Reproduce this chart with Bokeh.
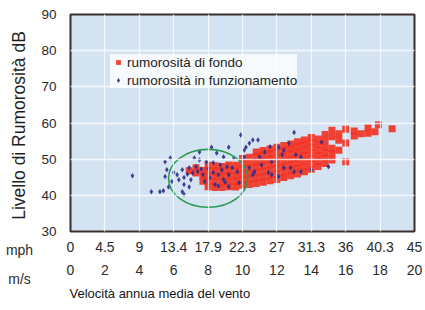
from bokeh.plotting import figure
from bokeh.layouts import row
from bokeh.models import (Range1d, FixedTicker, LinearAxis, Label, Legend, LegendItem, Title)
from bokeh.embed import file_html
from bokeh.resources import INLINE

# ---- data ----
ms_ticks = [0, 2, 4, 6, 8, 10, 12, 14, 16, 18, 20]
mph_labels = ["0", "4.5", "9", "13.4", "17.9", "22.3", "27", "31.3", "36", "40.3", "45"]
db_ticks = [30, 40, 50, 60, 70, 80, 90]
row_names = ["mph", "m/s"]

# background noise (rumorosità di fondo): wind speed m/s -> dB readings
red_cols = {
    6.9: [46.8],
    7.3: [46.2, 47.6],
    7.7: [43.9, 45.3, 46.9],
    8.0: [42.4, 43.9, 45.4, 46.9, 48.3],
    8.4: [42.2, 43.7, 45.2, 46.7, 48.2],
    8.8: [42.2, 43.7, 45.2, 46.7, 48.0],
    9.2: [42.4, 43.9, 45.4, 46.9, 48.4],
    9.6: [42.3, 43.8, 45.3, 46.8, 48.3],
    10.0: [42.8, 44.3, 45.8, 47.3, 48.8, 50.2],
    10.4: [43.0, 44.5, 46.0, 47.5, 49.0, 50.5],
    10.8: [43.3, 44.8, 46.3, 47.8, 49.3, 50.8, 52.0],
    11.2: [43.6, 45.1, 46.6, 48.1, 49.6, 51.1, 52.4],
    11.6: [44.0, 45.5, 47.0, 48.5, 50.0, 51.5, 52.8],
    12.0: [44.4, 45.9, 47.4, 48.9, 50.4, 51.9, 53.3],
    12.4: [44.9, 46.4, 47.9, 49.4, 50.9, 52.4, 53.8],
    12.8: [45.4, 46.9, 48.4, 49.9, 51.4, 52.9, 54.2],
    13.2: [45.9, 47.4, 48.9, 50.4, 51.9, 53.4, 54.8],
    13.6: [46.5, 48.0, 49.5, 51.0, 52.5, 54.0, 55.3],
    14.0: [47.2, 48.7, 50.2, 51.7, 53.2, 54.7, 56.0],
    14.4: [48.0, 49.5, 51.0, 52.5, 54.0, 55.6],
    14.8: [48.8, 50.3, 51.8, 53.3, 55.0, 56.8],
    15.2: [49.8, 51.5, 53.0, 56.2, 58.0],
    15.6: [52.5, 55.2, 57.0],
    16.0: [49.3, 54.5, 58.3],
    16.5: [56.4, 57.8],
    16.9: [57.0],
    17.3: [57.2, 58.6],
    17.7: [57.6],
    17.9: [59.5],
    18.7: [58.4],
}

# operating noise (rumorosità in funzionamento): (wind m/s, dB)
blue_pts = [
    (3.6, 45.4), (4.7, 41.0), (5.2, 41.0), (5.4, 41.3), (5.5, 49.3), (5.8, 50.3),
    (5.5, 45.2), (5.6, 47.1), (5.9, 43.8), (5.7, 42.3), (6.0, 46.3), (6.3, 44.3),
    (6.2, 45.7), (6.5, 47.1), (6.6, 44.9), (6.6, 43.0), (6.9, 47.6), (6.5, 41.0),
    (6.6, 40.3), (6.8, 45.8), (7.0, 44.3), (6.9, 42.3), (7.1, 46.2), (7.2, 50.3),
    (7.3, 47.9), (7.4, 46.6), (7.5, 52.0), (7.5, 49.8), (7.6, 47.3), (7.7, 45.7),
    (7.8, 43.8), (7.9, 49.3), (8.0, 47.3), (8.1, 44.9), (8.2, 53.3), (8.3, 49.0),
    (8.3, 46.3), (8.4, 43.0), (8.5, 51.7), (8.6, 45.7), (8.6, 42.6), (8.7, 48.4),
    (8.8, 47.0), (8.9, 50.6), (8.9, 44.4), (9.0, 43.6), (9.1, 47.9), (9.2, 53.3),
    (9.2, 45.7), (9.2, 42.4), (9.4, 47.6), (9.5, 50.3), (9.7, 46.5), (9.8, 43.5),
    (9.9, 56.7), (10.1, 50.6), (10.1, 52.5), (10.2, 53.3), (10.4, 54.4), (10.4, 47.6),
    (10.6, 55.3), (10.6, 45.7), (10.7, 46.5), (10.9, 55.3), (11.0, 50.6), (11.1, 48.4),
    (11.3, 52.0), (11.5, 46.3), (11.6, 53.4), (11.7, 49.3), (11.7, 45.7), (12.1, 53.3),
    (12.1, 45.2), (12.3, 51.2), (12.4, 52.5), (12.4, 47.6), (12.7, 54.4), (12.8, 47.6),
    (13.0, 57.4), (13.0, 46.5), (13.1, 51.2), (13.4, 50.6), (13.4, 46.5), (14.0, 47.1),
    (14.6, 54.7), (15.0, 47.9),
]

red_x = [x for x, ys in red_cols.items() for _ in ys]
red_y = [y for ys in red_cols.values() for y in ys]
blue_x = [p[0] for p in blue_pts]
blue_y = [p[1] for p in blue_pts]

# highlighted zone (ellipse): centre and size in data units
zone_x, zone_y, zone_w, zone_h = 8.0, 44.7, 4.6, 16.0

legend_labels = ["rumorosità di fondo", "rumorosità in funzionamento"]
y_title = "Livello di Rumorosità dB"
x_title = "Velocità annua media del vento"

FONT = "Liberation Sans"
TXT = "#2b2b2b"
W, H = 425, 310
LEFT_W = 38
S1, S2 = 10, 10  # standoffs of the two tick-label rows


def style_x(ax, standoff, ticks):
    ax.ticker = FixedTicker(ticks=ticks)
    ax.axis_line_color = None
    ax.major_tick_line_color = None
    ax.major_tick_out = 0
    ax.major_tick_in = 0
    ax.minor_tick_line_color = None
    ax.minor_tick_out = 0
    ax.major_label_standoff = standoff
    ax.major_label_text_font = FONT
    ax.major_label_text_font_size = "14px"
    ax.major_label_text_color = TXT


# ---- left strip: y title and the unit names of the two tick rows ----
q = figure(width=LEFT_W, height=H, output_backend="svg", toolbar_location=None,
           y_axis_location=None, x_range=Range1d(0, 1), y_range=Range1d(0, 1),
           min_border_left=0, min_border_right=0, min_border_top=14, min_border_bottom=79)
q.outline_line_color = None
q.background_fill_color = "white"
q.border_fill_color = "white"
q.grid.visible = False
name_tick = [0.5]
qa = q.xaxis[0]
style_x(qa, S1, name_tick)
qa.major_label_overrides = {name_tick[0]: row_names[0]}
qb = LinearAxis()
style_x(qb, S2, name_tick)
qb.major_label_overrides = {name_tick[0]: row_names[1]}
q.add_layout(qb, "below")
q.add_layout(Label(x=18, y=106, x_units="screen", y_units="screen", text=y_title,
                   angle=90, angle_units="deg", text_align="center", text_baseline="middle",
                   text_font=FONT, text_font_size="17.5px", text_color="#1e1e1e"))

# ---- main chart ----
p = figure(width=W - LEFT_W, height=H, output_backend="svg", toolbar_location=None,
           x_range=Range1d(0, 20), y_range=Range1d(30, 90),
           min_border_left=30, min_border_right=11, min_border_top=14, min_border_bottom=79)

p.background_fill_color = "#d4e3f1"
p.border_fill_color = "white"
p.outline_line_color = "#3a2e2a"
p.outline_line_width = 2

p.xgrid.ticker = FixedTicker(ticks=ms_ticks)
p.ygrid.ticker = FixedTicker(ticks=db_ticks)
for g in (p.xgrid[0], p.ygrid[0]):
    g.grid_line_color = "white"
    g.grid_line_alpha = 0.75
    g.grid_line_width = 1.3
    g.level = "overlay"

r_red = p.scatter(red_x, red_y, marker="square", size=7, fill_color="#f3301f",
                  line_color=None, fill_alpha=0.9)
r_blue = p.scatter(blue_x, blue_y, marker="diamond", size=5.5, fill_color="#2c2f8c",
                   line_color=None, fill_alpha=0.9)

p.ellipse(x=[zone_x], y=[zone_y], width=[zone_w], height=[zone_h],
          fill_color=None, line_color="#2c9a55", line_width=1.6)

yax = p.yaxis[0]
yax.ticker = FixedTicker(ticks=db_ticks)
yax.axis_line_color = None
yax.major_tick_line_color = None
yax.major_tick_out = 0
yax.major_tick_in = 0
yax.minor_tick_line_color = None
yax.minor_tick_out = 0
yax.major_label_standoff = 14
yax.major_label_text_font = FONT
yax.major_label_text_font_size = "13.5px"
yax.major_label_text_color = TXT

xmph = p.xaxis[0]
style_x(xmph, S1, ms_ticks)
xmph.major_label_overrides = {t: lab for t, lab in zip(ms_ticks, mph_labels)}

xms = LinearAxis()
style_x(xms, S2, ms_ticks)
xms.major_label_overrides = {t: str(t) for t in ms_ticks}
p.add_layout(xms, "below")

p.add_layout(Title(text=x_title, align="left", offset=-1, vertical_align="bottom",
                   standoff=12, text_font=FONT, text_font_size="13px",
                   text_font_style="normal", text_color="#151515"), "below")

legend = Legend(items=[LegendItem(label=legend_labels[0], renderers=[r_red]),
                       LegendItem(label=legend_labels[1], renderers=[r_blue])],
                location=(40, 143))
legend.background_fill_color = "white"
legend.background_fill_alpha = 0.8
legend.border_line_color = None
legend.label_text_font = FONT
legend.label_text_font_size = "13.5px"
legend.label_text_color = "#222222"
legend.glyph_width = 16
legend.glyph_height = 12
legend.label_standoff = 1
legend.label_height = 16
legend.spacing = 2
legend.padding = 9
legend.margin = 0
p.add_layout(legend, "center")

layout = row(q, p)
open("out.html", "w").write(file_html(layout, INLINE))
